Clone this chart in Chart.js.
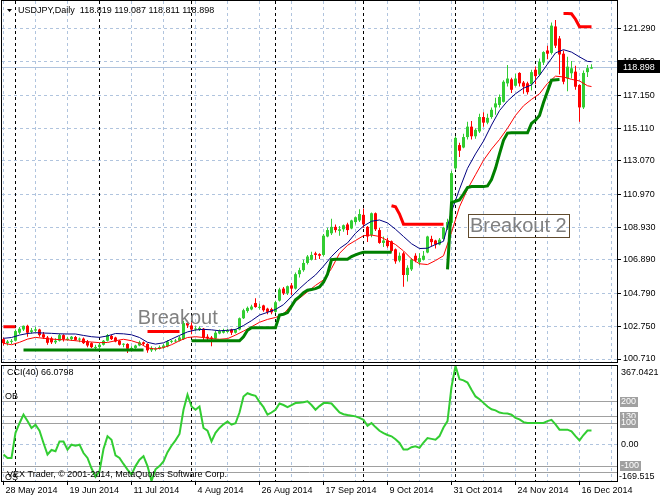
<!DOCTYPE html>
<html>
<head>
<meta charset="utf-8">
<title>USDJPY Daily</title>
<script src="https://cdn.jsdelivr.net/npm/chart.js@4.4.1/dist/chart.umd.min.js"></script>
<style>
  html, body { margin: 0; padding: 0; background: #fff; }
  #wrap { position: relative; width: 660px; height: 500px; overflow: hidden; background: #fff; }
  canvas { position: absolute; left: 0; }
  #main { top: 0; }
  #cci { top: 363px; }
</style>
</head>
<body>
<div id="wrap">
  <canvas id="main" width="660" height="363"></canvas>
  <canvas id="cci" width="660" height="137"></canvas>
</div>
<script>
// USDJPY daily, 28 May - 19 Dec 2014, channel lines on top, CCI(40) pane below.

const symbol = "USDJPY";
const period = "Daily";
const cciPeriod = 40;

// one bar per trading day, index 0 = 28 May 2014
const opens = [
  101.95, 101.70, 101.78,
  101.85, 102.35, 102.55, 102.78, 102.40, 102.48, 102.55, 102.25, 102.05, 102.00, 101.75,
  101.85, 102.20, 101.90, 101.95, 102.08, 101.92, 101.98, 101.80, 101.70, 101.40,
  101.45, 101.60, 101.85, 102.15, 102.05, 101.85, 101.60, 101.65, 101.30, 101.40, 101.55,
  101.75, 101.65, 101.25, 101.30, 101.35, 101.42, 101.50, 101.78, 101.80, 101.85, 101.95, 102.95,
  102.80, 102.55, 102.55, 102.60, 102.10, 102.05, 101.98, 102.30, 102.35, 102.40, 102.55,
  102.35, 102.55, 103.25, 103.70, 103.80, 104.20, 103.90, 104.05, 103.85, 103.82,
  103.65, 104.35, 105.10, 104.80, 105.30, 105.10, 106.00, 106.25, 106.70, 106.90, 107.30,
  107.25, 107.20, 108.35, 108.55, 108.95, 108.70, 108.80, 109.10, 108.85, 109.25, 109.35,
  109.70, 108.95, 108.45, 109.80, 108.75, 107.95, 108.10, 108.05, 107.55, 106.85, 107.30,
  105.95, 106.30, 107.15, 106.75, 106.90, 107.35, 108.20, 108.10, 107.85, 108.20, 108.85, 109.20,
  112.60, 114.05, 113.90, 114.55, 115.20, 114.60, 114.90, 115.80, 115.45, 115.80,
  116.40, 116.55, 116.75, 117.90, 118.15, 117.75, 118.55, 117.95, 117.90, 117.85,
  118.75, 118.45, 119.20, 119.95, 119.80, 121.45, 120.70, 119.75, 118.21, 118.53,
  118.63, 117.80, 116.40, 118.60, 118.819
];
const highs = [
  102.05, 101.90, 101.95,
  102.55, 102.70, 102.80, 102.85, 102.65, 102.72, 102.60, 102.40, 102.15, 102.10, 102.00,
  102.30, 102.25, 102.10, 102.15, 102.15, 102.05, 102.05, 101.90, 101.75, 101.60,
  101.70, 101.90, 102.27, 102.20, 102.10, 101.90, 101.70, 101.70, 101.50, 101.60, 101.85,
  101.80, 101.70, 101.50, 101.45, 101.55, 101.65, 101.88, 101.90, 101.95, 102.15, 103.10, 103.10,
  103.00, 102.75, 102.75, 102.65, 102.25, 102.15, 102.45, 102.55, 102.60, 102.60, 102.60,
  102.60, 103.30, 103.85, 103.98, 104.10, 104.50, 104.15, 104.10, 103.90, 103.90,
  104.35, 105.15, 105.20, 105.30, 105.45, 106.10, 106.40, 106.90, 107.20, 107.40, 107.40,
  107.30, 108.50, 108.90, 109.45, 109.10, 109.00, 109.10, 109.20, 109.40, 109.60, 110.05,
  110.10, 109.00, 109.85, 109.85, 108.90, 108.35, 108.25, 108.10, 107.60, 107.35, 107.40,
  106.55, 107.00, 107.30, 107.30, 107.45, 108.40, 108.40, 108.15, 108.25, 108.95, 109.45, 112.45,
  114.60, 114.20, 114.75, 115.50, 115.55, 115.10, 116.00, 116.10, 116.00, 116.40,
  117.00, 117.20, 118.10, 119.05, 118.25, 118.50, 118.60, 118.05, 118.00, 118.75,
  118.95, 119.45, 119.90, 120.25, 121.70, 121.85, 120.85, 119.95, 119.56, 119.30,
  119.00, 117.85, 118.70, 119.05, 119.087
];
const lows = [
  101.55, 101.55, 101.65,
  101.80, 102.25, 102.45, 102.10, 102.30, 102.40, 102.10, 101.95, 101.60, 101.65, 101.65,
  101.80, 101.80, 101.85, 101.85, 101.85, 101.75, 101.65, 101.45, 101.40, 101.30,
  101.35, 101.55, 101.80, 101.90, 101.75, 101.55, 101.45, 101.08, 101.20, 101.35, 101.50,
  101.55, 101.10, 101.15, 101.20, 101.30, 101.35, 101.45, 101.70, 101.75, 101.80, 101.90, 102.65,
  102.25, 102.45, 102.45, 101.90, 101.85, 101.50, 101.95, 102.25, 102.30, 102.35, 102.20,
  102.30, 102.50, 103.20, 103.60, 103.75, 103.90, 103.80, 103.65, 103.50, 103.50,
  103.60, 104.30, 104.70, 104.70, 104.70, 105.05, 105.80, 106.15, 106.60, 106.85, 106.90,
  106.95, 107.10, 108.30, 108.45, 108.60, 108.40, 108.65, 108.45, 108.80, 109.10, 109.25,
  108.90, 108.00, 108.30, 108.70, 107.90, 107.70, 107.65, 107.35, 106.65, 106.75, 105.22,
  105.55, 106.20, 106.75, 106.55, 106.85, 107.30, 107.75, 107.60, 107.80, 108.10, 108.75, 109.05,
  112.50, 113.30, 113.85, 114.40, 114.40, 114.45, 114.80, 115.20, 115.35, 115.70,
  115.95, 116.40, 116.70, 117.70, 117.30, 117.70, 117.70, 117.25, 117.20, 117.45,
  117.85, 118.35, 119.05, 119.40, 119.70, 120.10, 118.45, 117.85, 117.40, 118.20,
  117.50, 115.50, 116.30, 118.30, 118.811
];
const closes = [
  101.70, 101.80, 101.84,
  102.45, 102.60, 102.78, 102.35, 102.50, 102.56, 102.20, 102.05, 101.72, 101.75, 101.85,
  102.20, 101.95, 101.98, 102.10, 101.90, 101.98, 101.70, 101.55, 101.45, 101.45,
  101.60, 101.85, 102.20, 101.95, 101.80, 101.60, 101.65, 101.35, 101.40, 101.55, 101.75,
  101.65, 101.25, 101.40, 101.38, 101.45, 101.55, 101.80, 101.82, 101.85, 102.05, 102.95, 102.80,
  102.55, 102.60, 102.65, 102.05, 102.00, 101.95, 102.35, 102.45, 102.50, 102.50, 102.35,
  102.55, 103.25, 103.75, 103.90, 103.98, 103.95, 103.95, 103.75, 103.65, 103.62,
  104.25, 105.05, 104.80, 105.25, 105.10, 106.00, 106.25, 106.70, 107.10, 107.20, 107.20,
  107.15, 108.40, 108.75, 108.95, 108.75, 108.80, 109.05, 108.75, 109.35, 109.55, 109.75,
  109.10, 108.35, 109.80, 108.80, 107.95, 108.10, 107.75, 107.45, 106.80, 107.15, 105.95,
  106.40, 106.90, 106.85, 107.00, 107.15, 108.35, 108.00, 107.85, 108.15, 108.90, 109.25, 112.30,
  114.50, 113.70, 114.55, 115.20, 114.60, 115.00, 115.80, 115.45, 115.75, 116.25,
  116.65, 117.05, 118.00, 118.20, 117.50, 118.20, 117.90, 117.70, 117.35, 118.60,
  118.35, 119.25, 119.85, 119.75, 121.50, 120.25, 119.70, 118.00, 118.94, 118.84,
  117.69, 116.40, 118.55, 118.85, 118.898
];

// the two moving averages
const maAt = [
  0, 2, 4, 6, 8, 10, 12, 14, 16, 18, 20, 22, 24, 26, 28, 30, 32, 34, 36, 38,
  40, 42, 44, 46, 48, 50, 52, 54, 56, 58, 60, 62, 64, 66, 68, 70, 72, 74, 76, 78,
  80, 82, 84, 86, 88, 90, 92, 94, 96, 98, 100, 102, 104, 106, 108, 110, 112, 114, 116, 118,
  120, 122, 124, 126, 128, 130, 132, 134, 136, 138, 140, 142, 144, 146, 147
];
const maBlue = [
  102.0, 102.05, 102.2, 102.3, 102.35, 102.33, 102.31, 102.28, 102.27, 102.27,
  102.18, 102.1, 102.06, 102.15, 102.3, 102.28, 102.22, 102.05, 101.75, 101.64,
  101.72, 101.95, 102.18, 102.4, 102.52, 102.56, 102.53, 102.47, 102.5, 102.55,
  102.8, 103.1, 103.45, 103.62, 103.8, 104.1, 104.6, 105.1, 105.55, 105.95,
  106.5, 107.1, 107.6, 107.95, 108.55, 109.0, 109.3, 109.38, 109.2, 108.8,
  108.35, 107.9, 107.6, 107.62, 107.85, 108.05, 109.9, 111.3, 112.6, 113.5,
  114.3, 115.3, 116.2, 116.8, 117.25, 117.6, 117.8, 118.4, 119.1, 119.8,
  120.0, 119.85, 119.55, 119.27, 119.25
];
const maRed = [
  101.69, 101.6, 101.75, 101.95, 102.06, 102.0, 101.95, 101.92, 101.9, 101.85,
  101.8, 101.77, 101.73, 101.74, 101.85, 101.94, 101.85, 101.69, 101.4, 101.33,
  101.42, 101.6, 101.85, 102.05, 102.1, 102.05, 101.98, 101.94, 101.98, 102.2,
  102.45, 102.72, 103.0, 103.18, 103.3, 103.5, 104.1, 104.5, 104.9, 105.3,
  105.64, 106.35, 107.3, 107.8, 108.1, 108.4, 108.44, 108.35, 108.1, 107.85,
  107.45, 106.95, 106.65, 106.6, 106.85, 107.15, 108.6, 110.2, 111.3, 112.2,
  113.1, 113.8, 114.4, 115.1, 115.9, 116.5, 116.9, 117.25, 117.9, 118.35,
  118.3, 118.15, 118.05, 117.75, 117.7
];

// trailing lines as vertices, null breaks the line
const supportAt = [
  5, 35, 36,
  47, 59, 60, 61, 62, 68, 69, 70, 71, 72, 73, 74, 75, 76, 77, 78, 79, 80, 81, 82, 83, 86,
  87, 88, 89, 90, 97, 98,
  111, 112, 113, 114, 115, 116, 117, 120, 121, 122, 123, 124, 125, 126, 127, 131, 132,
  133, 134, 135, 136, 137, 139
];
const supportVal = [
  101.27, 101.27, null,
  101.85, 101.85, 102.1, 102.5, 102.66, 102.66, 103.45, 103.5, 103.6, 104.0, 104.4, 104.6,
  104.85, 105.0, 105.05, 105.1, 105.2, 105.5, 106.0, 106.9, 106.93, 106.93,
  107.1, 107.2, 107.3, 107.36, 107.36, null,
  106.3, 110.45, 110.55, 110.63, 111.0, 111.4, 111.46, 111.46, 111.5, 111.9, 112.6, 113.5,
  114.35, 114.8, 114.82, 114.82, 115.4,
  115.6, 115.9, 116.7, 117.4, 118.1, 118.14
];
const resistAt = [0, 3, 4, 36, 44, 45, 97, 98, 99, 100, 110, 111, 140, 141, 142, 143, 144, 147];
const resistVal = [
  102.72, 102.72, null, 102.43, 102.43, null,
  110.27, 110.2, 109.75, 109.12, 109.12, null,
  122.26, 122.26, 122.24, 121.9, 121.43, 121.43
];

const cci = [
  -46, -62, -62, 55, 100, 140, 110, 78, 93, 65,
  8, -46, -25, -31, 15, 15, -23, 0, -5, 0,
  -39, -62, -110, -150, -124, -20, 39, 23, -50, -62,
  -90, -116, -140, -100, -70, -54, -100, -169.515, -115, -100,
  -78, -35, -5, 20, 50, 163, 233, 178, 163, 178,
  78, 65, 15, 55, 78, 95, 108, 93, 100, 150,
  225, 240, 233, 228, 200, 175, 140, 150, 163, 192,
  185, 175, 185, 194, 196, 198, 202, 185, 163, 180,
  194, 194, 192, 171, 150, 142, 138, 135, 132, 125,
  116, 88, 101, 82, 65, 54, 45, 39, 25, 8,
  -23, -23, -12, -8, -15, 10, 31, 27, 23, 40,
  80, 110, 270, 367.0421, 305, 300, 290, 256, 225, 212,
  195, 178, 165, 160, 150, 146, 145, 140, 125, 118,
  105, 101, 101, 101, 101, 101, 110, 116, 95, 70,
  70, 70, 62, 40, 20, 45, 66, 66.0798
];

const priceTicks = [100.71, 102.75, 104.79, 106.89, 108.93, 110.97, 113.07, 115.11, 117.15, 119.25, 121.29];
const dateLabels = [
  "28 May 2014", "19 Jun 2014", "11 Jul 2014", "4 Aug 2014", "26 Aug 2014",
  "17 Sep 2014", "9 Oct 2014", "31 Oct 2014", "24 Nov 2014", "16 Dec 2014"
];
const monthStarts = [3, 24, 47, 68, 90, 113, 133];
const cciLevels = [200, 130, 100, -100, -130];
const cciTagged = [130, 200, 100, -100];

// text objects placed on the chart, in bar / price units
const notes = [
  { text: "Breakout", i: 33.55, p: 102.87 },
  { text: "Breakout 2", i: 116.6, p: 108.61, box: [116.2, 109.73, 141.6, 108.30] }
];

const gridColor = "#b0c4de";
const upColor = "#32cd32";
const downColor = "#ff0000";
const fontFam = '"Liberation Sans", Arial, sans-serif';

Chart.defaults.font.family = fontFam;
Chart.defaults.font.size = 9;
Chart.defaults.color = "#000";

const N = closes.length;
const xMin = -0.375, xMax = 153.375;   // 4px per bar, bar 0 centred on x=3.5
const priceMin = 100.523, priceMax = 123.036;
const cciMin = Math.min(...cci), cciMax = Math.max(...cci);
const gridAt = [];
for (let v = 0; v <= 152; v += 8) gridAt.push(v);

const candleColors = closes.map((c, i) => (c >= opens[i] ? upColor : downColor));
const bodies = closes.map((c, i) => ({ x: i, y: [opens[i], c] }));
const wicks = closes.map((c, i) => ({ x: i, y: [lows[i], highs[i]] }));
const pairs = (xs, ys) => xs.map((x, k) => ({ x, y: ys[k] }));

function noPad(s) {
  s.paddingTop = 0; s.paddingBottom = 0; s.paddingLeft = 0; s.paddingRight = 0;
}

function vSeparators(chart) {
  const { ctx, chartArea: a, scales: { x } } = chart;
  ctx.save();
  ctx.strokeStyle = "#000";
  ctx.lineWidth = 1;
  ctx.setLineDash([3, 3]);
  for (const i of monthStarts) {
    const px = Math.floor(x.getPixelForValue(i)) + 0.5;
    ctx.beginPath();
    ctx.moveTo(px, a.top);
    ctx.lineTo(px, a.bottom);
    ctx.stroke();
  }
  ctx.restore();
}

function frame(chart) {
  const { ctx, chartArea: a } = chart;
  ctx.save();
  ctx.strokeStyle = "#000";
  ctx.lineWidth = 1;
  ctx.strokeRect(a.left - 0.5, a.top - 0.5, a.right - a.left + 1, a.bottom - a.top + 1);
  ctx.restore();
}

const mainDeco = {
  id: "mainDeco",
  beforeDatasetsDraw(chart) {
    vSeparators(chart);
    const { ctx, chartArea: a, scales: { y } } = chart;
    const py = Math.floor(y.getPixelForValue(closes[N - 1])) + 0.5;
    ctx.save();
    ctx.strokeStyle = gridColor;
    ctx.lineWidth = 1;
    ctx.beginPath();
    ctx.moveTo(a.left, py);
    ctx.lineTo(a.right, py);
    ctx.stroke();
    ctx.restore();
  },
  afterDraw(chart) {
    const { ctx, chartArea: a, scales: { x, y } } = chart;
    frame(chart);
    ctx.save();
    ctx.strokeStyle = "#000";
    ctx.lineWidth = 1;
    for (const v of priceTicks) {
      const py = Math.floor(y.getPixelForValue(v)) + 0.5;
      ctx.beginPath();
      ctx.moveTo(a.right + 1, py);
      ctx.lineTo(a.right + 4, py);
      ctx.stroke();
    }
    // bid tag
    const last = closes[N - 1];
    const py = y.getPixelForValue(last);
    ctx.fillStyle = "#000";
    ctx.fillRect(a.right + 1, Math.round(py) - 7, 43, 13);
    ctx.fillStyle = "#fff";
    ctx.font = "9px " + fontFam;
    ctx.textBaseline = "middle";
    ctx.fillText(last.toFixed(3), a.right + 6, py);
    // header
    ctx.fillStyle = "#000";
    ctx.beginPath();
    ctx.moveTo(7, 9);
    ctx.lineTo(12, 9);
    ctx.lineTo(9.5, 12);
    ctx.closePath();
    ctx.fill();
    const hdr = `${symbol},${period}  ${opens[N - 1].toFixed(3)} ${highs[N - 1].toFixed(3)} ${lows[N - 1].toFixed(3)} ${last.toFixed(3)}`;
    ctx.fillText(hdr, 18, 11);
    // text objects
    ctx.font = "20px " + fontFam;
    ctx.textBaseline = "alphabetic";
    for (const n of notes) {
      if (n.box) {
        const [i0, p0, i1, p1] = n.box;
        const bx = Math.floor(x.getPixelForValue(i0)) + 0.5;
        const by = Math.floor(y.getPixelForValue(p0)) + 0.5;
        const bw = Math.round(x.getPixelForValue(i1) - bx);
        const bh = Math.round(y.getPixelForValue(p1) - by);
        ctx.strokeStyle = "#604a2c";
        ctx.strokeRect(bx, by, bw, bh);
      }
      ctx.fillStyle = "#808080";
      ctx.fillText(n.text, x.getPixelForValue(n.i), y.getPixelForValue(n.p));
    }
    ctx.restore();
  }
};

const cciDeco = {
  id: "cciDeco",
  beforeDatasetsDraw(chart) {
    const { ctx, chartArea: a, scales: { y } } = chart;
    ctx.save();
    ctx.strokeStyle = "#a0a0a0";
    ctx.lineWidth = 1;
    for (const lv of cciLevels) {
      const py = Math.floor(y.getPixelForValue(lv)) + 0.5;
      ctx.beginPath();
      ctx.moveTo(a.left, py);
      ctx.lineTo(a.right, py);
      ctx.stroke();
    }
    ctx.restore();
    vSeparators(chart);
  },
  afterDraw(chart) {
    const { ctx, chartArea: a, scales: { x, y } } = chart;
    frame(chart);
    ctx.save();
    ctx.font = "9px " + fontFam;
    ctx.fillStyle = "#000";
    const lx = a.right + 4;
    ctx.textBaseline = "top";
    ctx.fillText(cciMax.toFixed(4), lx, a.top + 2);
    ctx.textBaseline = "bottom";
    ctx.fillText(cciMin.toFixed(3), lx - 2, a.bottom);
    ctx.textBaseline = "middle";
    ctx.fillText("0.00", lx, y.getPixelForValue(0));
    for (const lv of cciTagged) {
      const py = Math.round(y.getPixelForValue(lv));
      const t = String(lv);
      const w = ctx.measureText(t).width;
      ctx.fillStyle = "#a0a0a0";
      ctx.fillRect(lx - 1, py - 5, Math.ceil(w) + 2, 10);
      ctx.fillStyle = "#fff";
      ctx.fillText(t, lx, py);
    }
    // date tick marks
    ctx.strokeStyle = "#000";
    ctx.lineWidth = 1;
    dateLabels.forEach((_, k) => {
      const px = Math.floor(x.getPixelForValue(k * 16)) + 0.5;
      ctx.beginPath();
      ctx.moveTo(px, a.bottom + 1);
      ctx.lineTo(px, a.bottom + 4);
      ctx.stroke();
    });
    // pane texts
    ctx.fillStyle = "#000";
    ctx.fillText(`CCI(${cciPeriod}) ${cci[N - 1].toFixed(4)}`, 7, a.top + 7);
    ctx.fillText("OB", 5, y.getPixelForValue(200) - 5);
    ctx.fillText("OS", 5, y.getPixelForValue(-130) + 5);
    ctx.fillText("VEX Trader, \u00a9 2001-2014, MetaQuotes Software Corp.", 7, a.bottom - 6);
    ctx.restore();
  }
};

const xGridScale = (showLabels) => ({
  type: "linear",
  min: xMin,
  max: xMax,
  offset: false,
  afterBuildTicks: (s) => { s.ticks = gridAt.map((v) => ({ value: v })); },
  afterFit: (s) => { s.height = showLabels ? 19 : 0; noPad(s); },
  ticks: {
    display: showLabels,
    autoSkip: false,
    maxRotation: 0,
    minRotation: 0,
    align: "start",
    padding: 4,
    labelOffset: 2,
    callback: (v) => (v % 16 === 0 ? dateLabels[v / 16] || "" : "")
  },
  grid: { color: gridColor, drawTicks: false, offset: false, borderDash: [3, 3] },
  border: { display: false, dash: [3, 3] }
});

new Chart(document.getElementById("main"), {
  type: "line",
  data: {
    datasets: [
      { type: "line", data: pairs(supportAt, supportVal), borderColor: "#008000", borderWidth: 3, pointRadius: 0, spanGaps: false },
      { type: "line", data: pairs(resistAt, resistVal), borderColor: "#ff0000", borderWidth: 3, pointRadius: 0, spanGaps: false },
      { type: "line", data: pairs(maAt, maBlue), borderColor: "#000080", borderWidth: 1, pointRadius: 0 },
      { type: "line", data: pairs(maAt, maRed), borderColor: "#ff0000", borderWidth: 1, pointRadius: 0 },
      { type: "bar", data: bodies, backgroundColor: candleColors, barThickness: 3, grouped: false, minBarLength: 1, inflateAmount: 0, borderWidth: 0 },
      { type: "bar", data: wicks, backgroundColor: candleColors, barThickness: 1, grouped: false, inflateAmount: 0, borderWidth: 0 }
    ]
  },
  options: {
    responsive: false,
    animation: false,
    devicePixelRatio: 1,
    events: [],
    layout: { padding: { left: 2, top: 1, right: 0, bottom: 1 } },
    plugins: { legend: { display: false }, tooltip: { enabled: false } },
    scales: {
      x: xGridScale(false),
      y: {
        type: "linear",
        position: "right",
        min: priceMin,
        max: priceMax,
        afterBuildTicks: (s) => { s.ticks = priceTicks.map((v) => ({ value: v })); },
        afterFit: (s) => { s.width = 43; noPad(s); },
        ticks: { padding: 6, callback: (v) => Number(v).toFixed(3) },
        grid: { color: gridColor, drawTicks: false, borderDash: [3, 3] },
        border: { display: false, dash: [3, 3] }
      }
    }
  },
  plugins: [mainDeco]
});

new Chart(document.getElementById("cci"), {
  type: "line",
  data: {
    datasets: [
      { data: cci.map((v, i) => ({ x: i, y: v })), borderColor: upColor, borderWidth: 2, pointRadius: 0 }
    ]
  },
  options: {
    responsive: false,
    animation: false,
    devicePixelRatio: 1,
    events: [],
    layout: { padding: { left: 2, top: 3, right: 0, bottom: 0 } },
    plugins: { legend: { display: false }, tooltip: { enabled: false } },
    scales: {
      x: xGridScale(true),
      y: {
        type: "linear",
        position: "right",
        min: cciMin,
        max: cciMax,
        afterBuildTicks: (s) => { s.ticks = [{ value: 0 }]; },
        afterFit: (s) => { s.width = 43; noPad(s); },
        ticks: { display: false },
        grid: { color: gridColor, drawTicks: false, borderDash: [3, 3] },
        border: { display: false, dash: [3, 3] }
      }
    }
  },
  plugins: [cciDeco]
});
</script>
</body>
</html>
